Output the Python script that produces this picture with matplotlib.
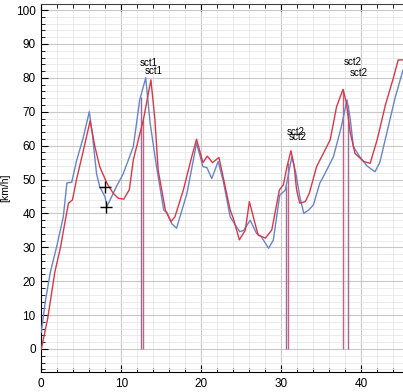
import numpy as np
import matplotlib
matplotlib.use('Agg')
import matplotlib.pyplot as plt
from matplotlib.ticker import MultipleLocator

plt.rcParams['font.family'] = ['Liberation Sans', 'DejaVu Sans']

# speed traces (distance / km/h)
red_x = [0, 0.8, 1.7, 2.4, 3.0, 3.4, 3.9, 4.4, 5.2, 6.1, 6.7, 7.3, 8.2, 9.0, 9.6, 10.3,
         11.0, 11.5, 12.75, 13.7, 14.2, 14.6, 15.5, 16.2, 16.7, 17.75, 18.8, 19.4, 20.2,
         20.75, 21.4, 22.2, 22.8, 23.6, 24.0, 24.75, 25.5, 26.0, 26.6, 27.1, 28.0, 28.8,
         29.75, 30.25, 30.7, 31.2, 31.6, 31.9, 32.3, 33.0, 33.5, 34.4, 35.2, 36.1, 36.9,
         37.7, 38.1, 38.6, 39.2, 40.3, 41.1, 42.0, 43.0, 44.0, 44.6, 45.3]
red_y = [0, 9, 22.8, 30, 38, 43, 44, 50, 58, 67.3, 59.7, 53.8, 48.9, 45.9, 44.5, 44.2,
         47, 55.8, 67.6, 79.4, 67.6, 52.8, 41, 37.6, 39, 46.9, 56.7, 61.9, 55,
         56.9, 55, 56.5, 49.9, 41, 38.5, 32.2, 35.1, 43.5, 38, 33.6, 32.7, 35.1,
         46.9, 48.4, 53.8, 58.5, 54, 47, 43, 43.5, 46, 53.8, 57.5, 61.7, 71.5,
         76.6, 73, 64, 57.7, 55.3, 54.8, 62, 72, 80, 85.3, 85.3]

blue_x = [0, 0.5, 1.1, 2.0, 2.75, 3.2, 3.8, 4.4, 5.2, 6.0, 6.4, 6.9, 7.3, 7.96, 8.2, 8.6,
          9.4, 10.2, 11.5, 12.3, 13.05, 13.6, 14.4, 15.3, 15.7, 16.3, 16.9, 18.2, 19.4,
          20.2, 20.7, 21.3, 22.1, 22.75, 23.6, 24.4, 24.8, 25.3, 26.1, 26.9, 27.5, 28.4,
          29.0, 29.8, 30.5, 31.3, 31.8, 32.3, 32.8, 33.4, 34.0, 34.8, 35.5, 36.5, 37.5,
          38.2, 38.6, 39.0, 39.8, 40.7, 41.7, 42.3, 43.2, 44.2, 45.2]
blue_y = [5, 14, 22.3, 31, 39, 49, 49.2, 55.5, 62, 70, 63, 51.8, 47.9, 44.9, 42, 44,
          48, 51.5, 59.7, 73.5, 80, 66.6, 53.8, 41, 40.2, 37, 35.6, 45.9, 60.7,
          53.8, 53.5, 50.3, 55.3, 49.4, 39, 36, 34.6, 35, 38, 34.1, 33.1, 29.7,
          32.2, 45.4, 46.9, 56.7, 52, 45, 40, 41, 42.5, 48.9, 52, 56.7, 65.6,
          73.5, 68, 59.7, 56.7, 54, 52.3, 55, 64, 74, 82.3]

# sector markers
red_sct = [12.75, 30.8, 37.7]
blue_sct = [12.4, 30.6, 38.3]

label_x = [12.34, 12.96, 30.7, 30.96, 37.8, 38.5]
label_y = [84.4, 82.1, 64.0, 62.5, 84.6, 81.5]
label_txt = ['sct1', 'sct1', 'sct2', 'sct2', 'sct2', 'sct2']

cross_x = [8.0, 8.1]
cross_y = [47.8, 41.9]

fig = plt.figure(figsize=(4.03, 3.92), dpi=100)
ax = fig.add_axes([41.3 / 403, 20 / 392, 1 - 41.3 / 403, 368 / 392])

red_c = '#d83848'
blue_c = '#6685cc'

ax.plot(blue_x, blue_y, color=blue_c, lw=1.0, zorder=3)
ax.plot(red_x, red_y, color=red_c, lw=1.0, zorder=4)

for s in blue_sct:
    ax.vlines(s, 0, np.interp(s, blue_x, blue_y), color='#9a6a98', lw=1.0, zorder=2)
for s in red_sct:
    ax.vlines(s, 0, np.interp(s, red_x, red_y), color='#c86080', lw=1.0, zorder=2)

for tx, ty, t in zip(label_x, label_y, label_txt):
    ax.text(tx, ty, t, fontsize=7, ha='left', va='center', zorder=5)

ax.plot(cross_x, cross_y, '+', color='black', ms=8, mew=1.0, zorder=6)

ax.set_xlim(0, 45.2)
ax.set_ylim(-6.8, 101.8)
ax.xaxis.set_major_locator(MultipleLocator(10))
ax.xaxis.set_minor_locator(MultipleLocator(2))
ax.yaxis.set_major_locator(MultipleLocator(10))
ax.yaxis.set_minor_locator(MultipleLocator(2))
ax.grid(which='major', color='#c8c8c8', lw=0.8)
ax.grid(which='minor', color='#e8e8e8', lw=0.6)
ax.set_axisbelow(True)

ax.tick_params(which='both', direction='in', top=True, labelsize=8.5, pad=4)
ax.tick_params(which='major', length=5)
ax.tick_params(which='minor', length=3)
ax.spines['right'].set_visible(False)
ax.spines['top'].set_color('#404040')

ax.set_ylabel('[km/h]', fontsize=7.5)
ax.yaxis.set_label_coords(-0.085, 0.5)

fig.savefig('out.png', dpi=100)
